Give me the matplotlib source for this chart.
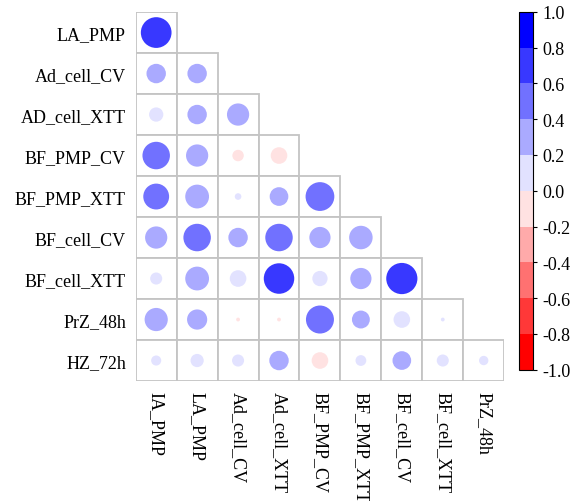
import numpy as np
import matplotlib
matplotlib.use("Agg")
import matplotlib.pyplot as plt
from matplotlib.colors import ListedColormap, BoundaryNorm
from matplotlib.patches import Circle, Rectangle

plt.rcParams["font.family"] = ["Liberation Serif", "DejaVu Serif"]
plt.rcParams["axes.unicode_minus"] = False

# row variables (y axis) and column variables (x axis)
row_labels = ["LA_PMP", "Ad_cell_CV", "AD_cell_XTT", "BF_PMP_CV", "BF_PMP_XTT",
              "BF_cell_CV", "BF_cell_XTT", "PrZ_48h", "HZ_72h"]
col_labels = ["IA_PMP", "LA_PMP", "Ad_cell_CV", "Ad_cell_XTT", "BF_PMP_CV",
              "BF_PMP_XTT", "BF_cell_CV", "BF_cell_XTT", "PrZ_48h"]

# lower triangle correlations, one list per row
r_LA_PMP = [0.65]
r_Ad_cell_CV = [0.26, 0.26]
r_AD_cell_XTT = [0.14, 0.26, 0.34]
r_BF_PMP_CV = [0.52, 0.34, -0.09, -0.19]
r_BF_PMP_XTT = [0.46, 0.39, 0.03, 0.24, 0.57]
r_BF_cell_CV = [0.34, 0.52, 0.26, 0.52, 0.31, 0.38]
r_BF_cell_XTT = [0.10, 0.39, 0.19, 0.64, 0.16, 0.31, 0.67]
r_PrZ_48h = [0.37, 0.28, -0.01, -0.01, 0.54, 0.22, 0.19, 0.01]
r_HZ_72h = [0.07, 0.12, 0.10, 0.26, -0.19, 0.08, 0.24, 0.10, 0.06]

rows = [r_LA_PMP, r_Ad_cell_CV, r_AD_cell_XTT, r_BF_PMP_CV, r_BF_PMP_XTT,
        r_BF_cell_CV, r_BF_cell_XTT, r_PrZ_48h, r_HZ_72h]

bounds = np.round(np.arange(-1.0, 1.01, 0.2), 1)
colors = ["#FF0000", "#FF3838", "#FF7171", "#FFAAAA", "#FFE2E2",
          "#E2E2FF", "#AAAAFF", "#7171FF", "#3838FF", "#0000FF"]
cmap = ListedColormap(colors)
norm = BoundaryNorm(bounds, cmap.N)

fig = plt.figure(figsize=(5.83, 5.02), dpi=100)
ax = fig.add_axes([0.2328, 0.239, 0.632, 0.735])

n = len(row_labels)
for i, vals in enumerate(rows):
    for j, v in enumerate(vals):
        ax.add_patch(Rectangle((j, i), 1, 1, facecolor="white",
                               edgecolor="#c4c4c4", lw=1.3, zorder=1))
        rad = 0.465 * np.sqrt(abs(v))
        ax.add_patch(Circle((j + 0.5, i + 0.5), rad, facecolor=cmap(norm(v)),
                            edgecolor="none", zorder=2))

ax.set_xlim(0, n)
ax.set_ylim(n, 0)
ax.set_xticks(np.arange(n) + 0.5)
ax.set_xticklabels(col_labels, rotation=-90, fontsize=13)
ax.set_yticks(np.arange(n) + 0.5)
ax.set_yticklabels(row_labels, fontsize=13)
ax.tick_params(length=0, pad=7)
for s in ax.spines.values():
    s.set_visible(False)

cax = fig.add_axes([0.890, 0.2615, 0.025, 0.713])
sm = plt.cm.ScalarMappable(cmap=cmap, norm=norm)
cb = fig.colorbar(sm, cax=cax, ticks=bounds)
cb.ax.set_yticklabels([f"{abs(b):.1f}" if b == 0 else f"{b:.1f}" for b in bounds],
                      fontsize=13)
cb.ax.tick_params(length=3, width=0.8)
cb.outline.set_linewidth(0.8)

fig.savefig("out.png", dpi=100)
